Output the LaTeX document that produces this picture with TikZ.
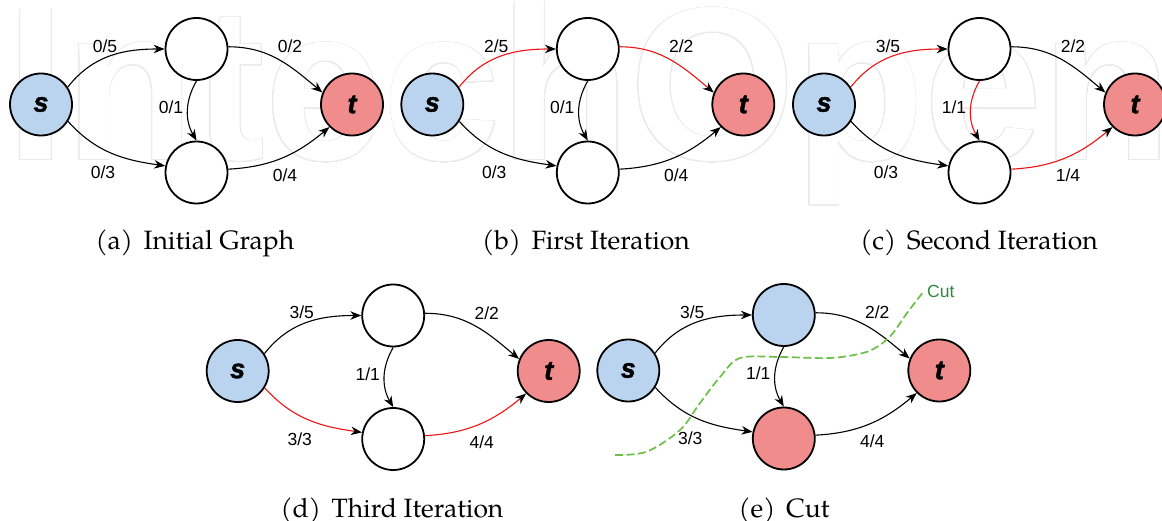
\documentclass[tikz,border=0pt]{standalone}
\usepackage{fontspec}
\setmainfont{Liberation Sans}
\newfontfamily\capfont{TeX Gyre Pagella}
\newfontfamily\markfont{Liberation Sans}[BoldFont={* Bold}]
\newfontfamily\endfont{Liberation Sans Bold Italic}[FakeBold=1.6]
\usepackage{contour}
\contourlength{0.9pt}
\contournumber{32}
\usetikzlibrary{arrows.meta}

\definecolor{srcfill}{HTML}{BAD3EE}
\definecolor{sinkfill}{HTML}{F08C8C}
\definecolor{flowred}{HTML}{F01414}
\definecolor{cutgreen}{HTML}{6CBF47}
\definecolor{cuttext}{HTML}{2E8B3E}
\definecolor{markgray}{HTML}{EAEAEA}

\tikzset{
  vertex/.style={circle, draw=black, line width=1.8pt, minimum size=62pt,
    inner sep=0pt, fill=white, font=\endfont\fontsize{27}{27}\selectfont},
  source/.style={vertex, fill=srcfill},
  sink/.style={vertex, fill=sinkfill},
  flowarc/.style={line width=1.1pt, -{Stealth[length=11pt,width=8.5pt,inset=3.5pt,color=black]}},
  flow/.style={draw=flowred},
  edgelabel/.style={font=\fontsize{17.5}{19}\selectfont, inner sep=0pt},
  subcap/.style={font=\capfont\fontsize{26.5}{30}\selectfont, anchor=base, inner sep=0pt},
  cutline/.style={draw=cutgreen, line width=1.7pt, dash pattern=on 8pt off 3.5pt},
  cutlabel/.style={font=\fontsize{17.5}{19}\selectfont, text=cuttext, inner sep=0pt},
  supath/.style={}, utpath/.style={}, uvpath/.style={}, svpath/.style={}, vtpath/.style={},
  umid/.style={}, vmid/.style={},
}

% #1 name prefix, #2 position of the source, #3-#7 flow/capacity labels
% (s-u, u-t, u-v, s-v, v-t), #8 per-graph style overrides
\newcommand\flowgraph[8]{%
\begin{scope}[shift={#2}, #8]
  \node[source] (#1s) at (0,0) {s};
  \node[vertex, umid] (#1u) at (155.5,55.5) {};
  \node[vertex, vmid] (#1v) at (155.5,-68) {};
  \node[sink] (#1t) at (311,0) {t};
  \draw[flowarc, supath] (#1s.33) to[out=52, in=180] (#1u.west);
  \draw[flowarc, utpath] (#1u.4) to[out=0, in=140] (#1t.158);
  \draw[flowarc, uvpath] (#1u.south) to[out=240, in=120] (#1v.north);
  \draw[flowarc, svpath] (#1s.-32) to[out=-48, in=172] (#1v.168);
  \draw[flowarc, vtpath] (#1v.6) to[out=3, in=-140] (#1t.-135);
  \node[edgelabel] (#1su) at (64,58.5) {#3};
  \node[edgelabel] (#1ut) at (249,58) {#4};
  \node[edgelabel] (#1uv) at (130,-3) {#5};
  \node[edgelabel] (#1sv) at (62,-68) {#6};
  \node[edgelabel] (#1vt) at (244,-71) {#7};
\end{scope}}

\begin{document}
\begin{tikzpicture}[x=1pt, y=1pt]
  \useasboundingbox (0,0) rectangle (1162,-521);
  \fill[white] (0,0) rectangle (1162,-521);

  % faint outlined lettering in the background
  \node[anchor=base west, inner sep=0pt, xscale=0.972, transform shape] (mark) at (6,-160)
    {\markfont\bfseries\fontsize{218}{218}\selectfont\textcolor{white}{\contour{markgray}{IntechOpen}}};

  \flowgraph{A}{(41,-104.5)}{0/5}{0/2}{0/1}{0/3}{0/4}{}
  \flowgraph{B}{(432.3,-104.5)}{2/5}{2/2}{0/1}{0/3}{0/4}
    {supath/.style=flow, utpath/.style=flow}
  \flowgraph{C}{(824,-104.5)}{3/5}{2/2}{1/1}{0/3}{1/4}
    {supath/.style=flow, uvpath/.style=flow, vtpath/.style=flow}
  \flowgraph{D}{(237.7,-371)}{3/5}{2/2}{1/1}{3/3}{4/4}
    {svpath/.style=flow, vtpath/.style=flow}
  \flowgraph{E}{(628.3,-370.5)}{3/5}{2/2}{1/1}{3/3}{4/4}
    {umid/.style={fill=srcfill}, vmid/.style={fill=sinkfill}}

  % the minimum cut
  \begin{scope}[shift={(628.3,-370.5)}]
    \coordinate (cutstart) at (-13.3,-84.5);
    \coordinate (cutend) at (295.7,79.5);
    \draw[cutline] plot[smooth, tension=0.55] coordinates {(cutstart) (18.4,-81.2)
      (51.7,-59.5) (71.7,-32.5) (91.7,-6.5) (111.7,12.5) (151.7,13.5) (201.7,12.5)
      (234.7,17.5) (251.7,25.5) (264.7,37.5) (278.7,57.5) (cutend)};
    \node[cutlabel, anchor=west] (cutname) at ([xshift=3pt]cutend) {Cut};
  \end{scope}

  % sub-captions
  \node[subcap] (capA) at (195,-250) {(a)\hspace{0.4em}Initial Graph};
  \node[subcap] (capB) at (586,-250) {(b)\hspace{0.4em}First Iteration};
  \node[subcap] (capC) at (979,-250) {(c)\hspace{0.4em}Second Iteration};
  \node[subcap] (capD) at (392,-517) {(d)\hspace{0.4em}Third Iteration};
  \node[subcap] (capE) at (784,-517) {(e)\hspace{0.4em}Cut};
\end{tikzpicture}
\end{document}
